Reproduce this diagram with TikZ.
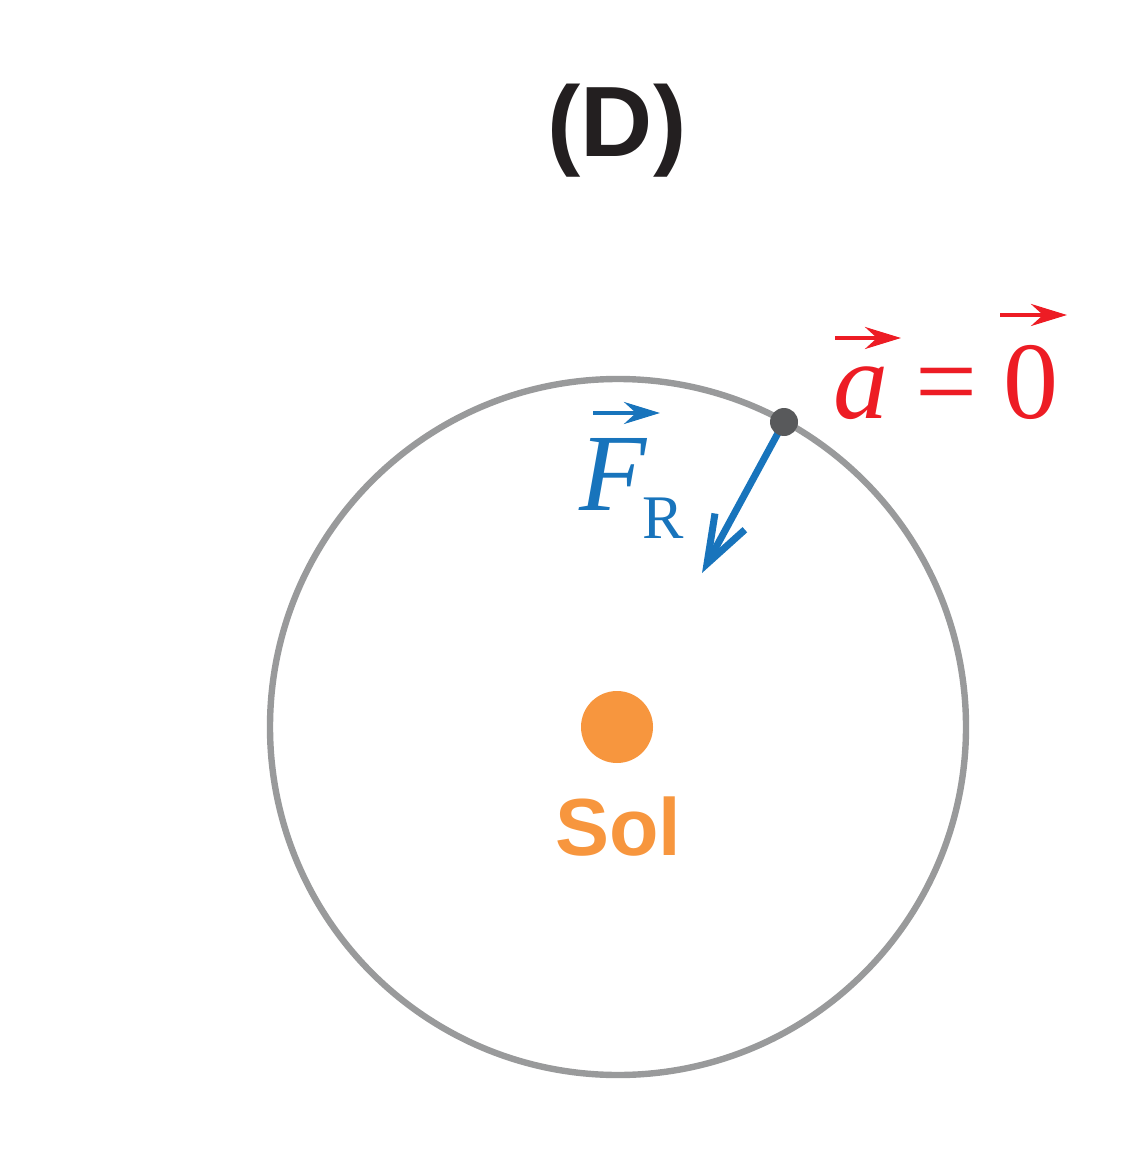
\documentclass[tikz,border=0pt]{standalone}
\usepackage{fontspec}
\setmainfont{Liberation Serif}
\newfontfamily\headfont{Liberation Sans}
\usetikzlibrary{arrows.meta}
\definecolor{orbitgray}{HTML}{999A9B}
\definecolor{planetgray}{HTML}{58595B}
\definecolor{forceblue}{HTML}{1874BC}
\definecolor{accred}{HTML}{ED1C24}
\definecolor{sunorange}{HTML}{F7963E}
\definecolor{titleblack}{HTML}{231F20}
\tikzset{
  orbit/.style={draw=orbitgray, line width=3.2pt},
  vecarrow/.style={line width=2pt, -{Stealth[length=18pt,width=11pt,inset=6pt]}},
  forcearrow/.style={draw=forceblue, line width=3.5pt, -{Straight Barb[length=24pt,width=17pt]}},
  mathlbl/.style={inner sep=0pt, anchor=base, font=\fontsize{55}{66}\selectfont},
}
\begin{document}
\begin{tikzpicture}[x=0.5pt,y=-0.5pt]
\useasboundingbox (0,0) rectangle (1130,1170);
% title
\node[inner sep=0pt, anchor=base, text=titleblack, font=\headfont\bfseries\fontsize{50}{60}\selectfont] (title) at (617,157) {(D)};
% orbit
\coordinate (sunc) at (618,727);
\draw[orbit] (sunc) circle[radius=348];
% sun
\node[circle, fill=sunorange, minimum size=36pt, inner sep=0pt] (sun) at (617,727) {};
\node[inner sep=0pt, anchor=base, text=sunorange, font=\headfont\bfseries\fontsize{40.5}{48}\selectfont] (sol) at (618,855) {Sol};
% planet and force
\coordinate (planetc) at (784,422);
\coordinate (ftip) at (702,573);
\draw[forcearrow] (planetc) -- (ftip);
\node[circle, fill=planetgray, minimum size=14pt, inner sep=0pt] (planet) at (planetc) {};
% F_R label
\node[mathlbl, text=forceblue] (F) at (614,510) {\textit{F}};
\node[inner sep=0pt, anchor=base, text=forceblue, font=\fontsize{31}{37}\selectfont] (R) at (663,538) {R};
\coordinate (fa1) at (593,413);
\coordinate (fa2) at (660,413);
\draw[vecarrow, draw=forceblue, fill=forceblue] (fa1) -- (fa2);
% a = 0
\node[mathlbl, text=accred] (a) at (861,418) {\textit{a}};
\node[mathlbl, text=accred] (eq) at (946,418) {=};
\node[mathlbl, text=accred] (zero) at (1031,418) {0};
\coordinate (aa1) at (835,338);
\coordinate (aa2) at (901,338);
\draw[vecarrow, draw=accred, fill=accred] (aa1) -- (aa2);
\coordinate (za1) at (1000,315);
\coordinate (za2) at (1067,315);
\draw[vecarrow, draw=accred, fill=accred] (za1) -- (za2);
\end{tikzpicture}
\end{document}
